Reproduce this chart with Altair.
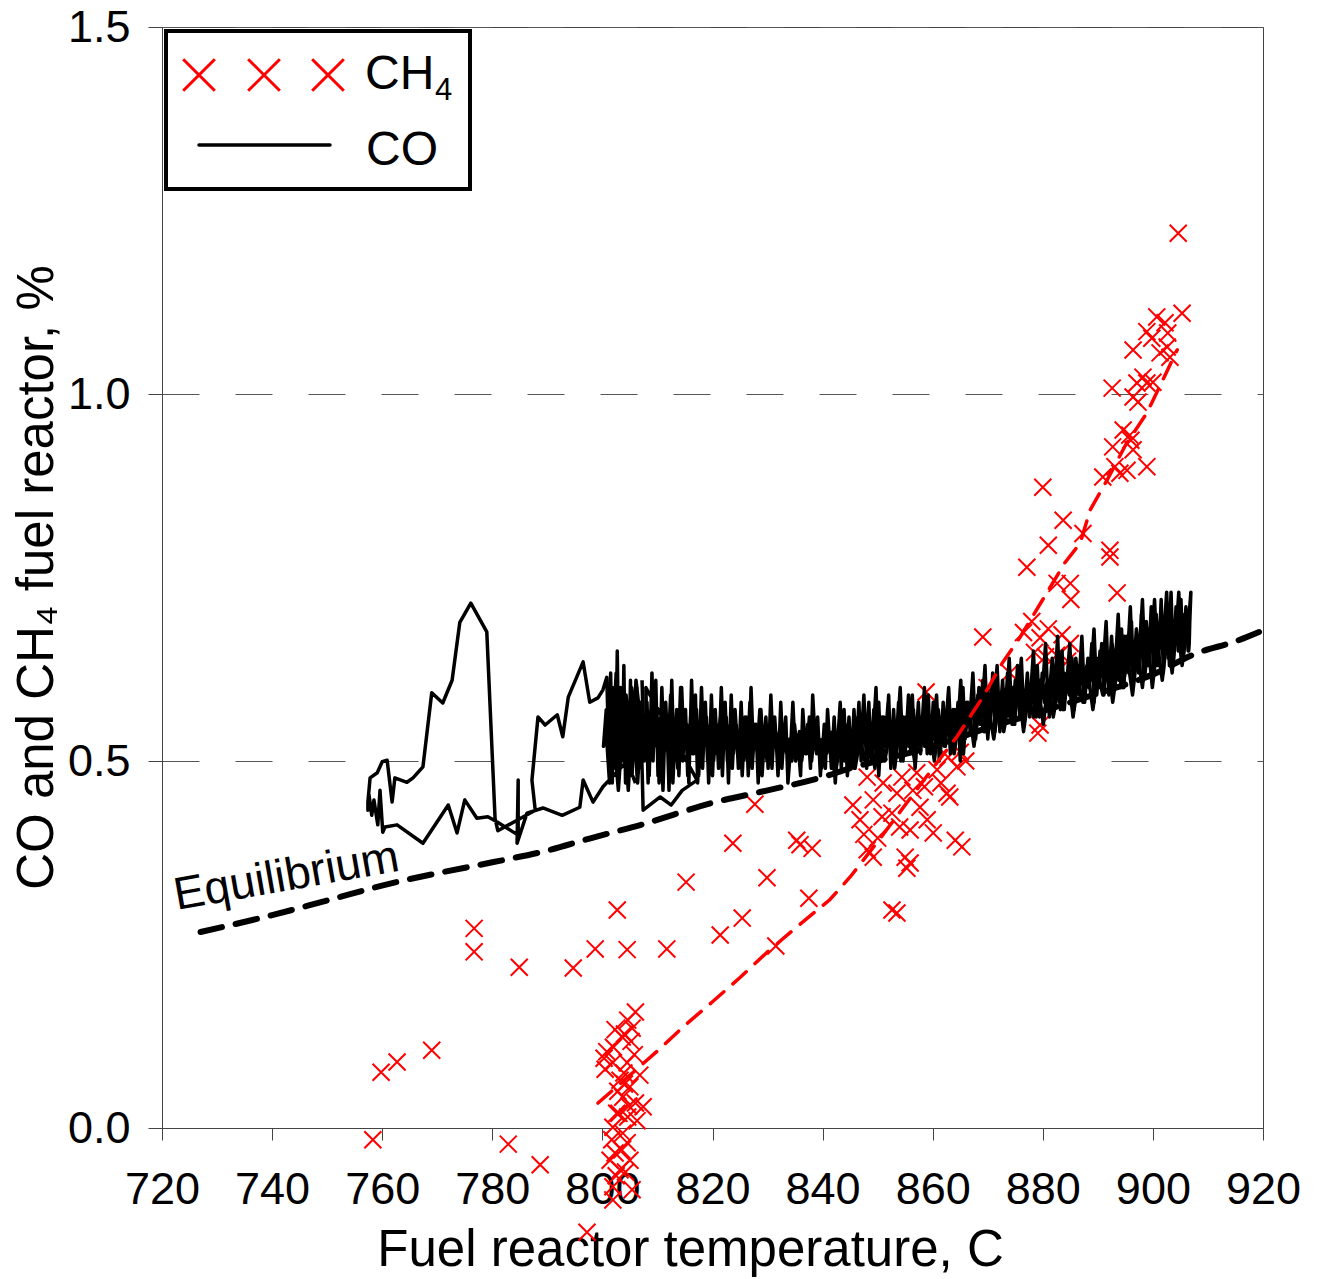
import altair as alt
import pandas as pd

FONT = "Liberation Sans"
RED = "#ff0000"

# ---- axis ticks ----
x_ticks = [720, 740, 760, 780, 800, 820, 840, 860, 880, 900, 920]
y_ticks = [0.0, 0.5, 1.0, 1.5]

# ---- CO trace in segments (temperature C, CO %) ----
# left loop (lower path out to ~757 C, upper path back) and dense start-up blob at ~800-807 C
loop_temp = [
    806.0, 804.5, 800.1, 798.3, 796.5, 795.9, 792.7, 789.2, 786.3, 784.5, 784.7, 784.7,
    780.9, 779.2, 777.2, 775.0, 773.6, 772.0, 767.4, 762.7, 760.5, 760.1, 759.6, 759.2,
    758.5, 758.1, 757.6, 757.4,
    757.4, 757.8, 759.1, 760.0, 760.9, 761.8, 762.3, 764.5, 765.6, 767.4, 769.0, 771.0,
    772.7, 774.1, 776.1, 779.0, 780.5, 781.0, 787.8, 787.2, 788.3, 789.6, 791.8, 792.8,
    793.8, 796.5, 797.7, 799.2, 800.1, 800.8,
    801.2, 801.5, 801.8, 802.1, 802.4, 802.7, 803.0, 803.3, 803.6, 803.9, 804.2, 804.5,
    804.8, 805.1, 805.4, 805.7, 806.0, 806.3, 806.6, 806.9, 806.2, 805.5, 804.7, 803.8,
    803.0, 802.2, 801.4, 800.7, 800.2, 800.6, 801.3, 802.0, 802.9, 803.7, 804.6, 805.5,
    806.4, 807.0, 806.1, 805.2, 804.3, 803.4, 802.5, 801.6, 800.9, 801.7, 802.6, 803.5,
    804.4, 805.3, 806.2, 807.0,
]
loop_pct = [
    0.470, 0.500, 0.465, 0.444, 0.474, 0.437, 0.426, 0.436, 0.429, 0.388, 0.474, 0.399,
    0.417, 0.424, 0.422, 0.447, 0.402, 0.440, 0.388, 0.413, 0.410, 0.403, 0.460, 0.413,
    0.447, 0.426, 0.454, 0.433,
    0.444, 0.477, 0.484, 0.499, 0.501, 0.444, 0.477, 0.471, 0.477, 0.492, 0.593, 0.579,
    0.610, 0.689, 0.715, 0.676, 0.422, 0.405, 0.433, 0.474, 0.560, 0.549, 0.563, 0.533,
    0.587, 0.635, 0.580, 0.586, 0.597, 0.614,
    0.50, 0.62, 0.47, 0.60, 0.49, 0.65, 0.48, 0.60, 0.50, 0.63, 0.47, 0.58,
    0.50, 0.61, 0.48, 0.59, 0.51, 0.60, 0.49, 0.58, 0.50, 0.57, 0.46, 0.56,
    0.52, 0.58, 0.51, 0.57, 0.52, 0.55, 0.47, 0.54, 0.46, 0.55, 0.52, 0.56,
    0.47, 0.55, 0.61, 0.49, 0.59, 0.53, 0.62, 0.48, 0.56, 0.60, 0.50, 0.57,
    0.49, 0.60, 0.52, 0.55,
]

# first forward sweep 807 -> 907 C (starts with the low branch near 0.44-0.47)
band1_temp = [
    807.4, 810.5, 812.5, 814.5, 817.2,
    807.9, 808.3, 808.8, 809.2, 809.7, 810.1, 810.6, 811.0, 811.5, 811.9, 812.4, 812.8,
    813.3, 813.7, 814.2, 814.6, 815.1, 815.5, 816.0, 816.4, 816.9, 817.3, 817.8, 818.2,
    818.7, 819.1, 819.6, 820.0, 820.5, 820.9, 821.4, 821.8, 822.3, 822.7, 823.2, 823.6,
    824.1, 824.5, 825.0, 825.4, 825.9, 826.3, 826.8, 827.2, 827.7, 828.1, 828.6, 829.0,
    829.5, 829.9, 830.4, 830.8, 831.3, 831.7, 832.2, 832.6, 833.1, 833.5, 834.0, 834.4,
    834.9, 835.3, 835.8, 836.2, 836.7, 837.1, 837.6, 838.0, 838.5, 838.9, 839.4, 839.8,
    840.3, 840.7, 841.2, 841.6, 842.1, 842.5, 843.0, 843.4, 843.9, 844.3, 844.8, 845.2,
    845.7, 846.1, 846.6, 847.0, 847.5, 847.9, 848.4, 848.8, 849.3, 849.7, 850.2, 850.6,
    851.1, 851.5, 852.0, 852.4, 852.9, 853.3, 853.8, 854.2, 854.7, 855.1, 855.6, 856.0,
    856.5, 856.9, 857.4, 857.8, 858.3, 858.7, 859.2, 859.6, 860.1, 860.5, 861.0, 861.4,
    861.9, 862.3, 862.8, 863.2, 863.7, 864.1, 864.6, 865.0, 865.5, 865.9, 866.4, 866.8,
    867.3, 867.7, 868.2, 868.6, 869.1, 869.5, 870.0, 870.4, 870.9, 871.3, 871.8, 872.2,
    872.7, 873.1, 873.6, 874.0, 874.5, 874.9, 875.4, 875.8, 876.3, 876.7, 877.2, 877.6,
    878.1, 878.5, 879.0, 879.4, 879.9, 880.3, 880.8, 881.2, 881.7, 882.1, 882.6, 883.0,
    883.5, 883.9, 884.4, 884.8, 885.3, 885.7, 886.2, 886.6, 887.1, 887.5, 888.0, 888.4,
    888.9, 889.3, 889.8, 890.2, 890.7, 891.1, 891.6, 892.0, 892.5, 892.9, 893.4, 893.8,
    894.3, 894.7, 895.2, 895.6, 896.1, 896.5, 897.0, 897.4, 897.9, 898.3, 898.8, 899.2,
    899.7, 900.1, 900.6, 901.0, 901.5, 901.9, 902.4, 902.8, 903.3, 903.7, 904.2, 904.6,
    905.1, 905.5, 906.0, 906.4, 906.8, 906.6,
]
band1_pct = [
    0.433, 0.451, 0.440, 0.460, 0.474,
    0.60, 0.47, 0.57, 0.50, 0.61, 0.48, 0.56, 0.46, 0.58, 0.51, 0.59, 0.47,
    0.55, 0.49, 0.60, 0.50, 0.57, 0.48, 0.56, 0.51, 0.59, 0.47, 0.54, 0.49,
    0.58, 0.50, 0.55, 0.48, 0.57, 0.51, 0.56, 0.48, 0.58, 0.50, 0.55, 0.49,
    0.57, 0.52, 0.54, 0.48, 0.56, 0.50, 0.58, 0.49, 0.55, 0.51, 0.57, 0.48,
    0.54, 0.50, 0.55, 0.49, 0.56, 0.51, 0.54, 0.49, 0.55, 0.51, 0.53, 0.50,
    0.55, 0.52, 0.54, 0.50, 0.53, 0.51, 0.56, 0.50, 0.54, 0.51, 0.53, 0.49,
    0.55, 0.51, 0.54, 0.49, 0.56, 0.50, 0.55, 0.49, 0.57, 0.50, 0.56, 0.49,
    0.57, 0.51, 0.58, 0.50, 0.56, 0.52, 0.58, 0.50, 0.57, 0.51, 0.58, 0.50,
    0.56, 0.52, 0.59, 0.50, 0.57, 0.51, 0.58, 0.50, 0.56, 0.52, 0.59, 0.51,
    0.57, 0.52, 0.58, 0.51, 0.57, 0.52, 0.59, 0.51, 0.58, 0.52, 0.57, 0.51,
    0.58, 0.52, 0.59, 0.51, 0.57, 0.53, 0.58, 0.50, 0.60, 0.53, 0.58, 0.54,
    0.61, 0.53, 0.59, 0.55, 0.61, 0.54, 0.60, 0.55, 0.62, 0.54, 0.59, 0.56,
    0.61, 0.55, 0.62, 0.56, 0.60, 0.55, 0.63, 0.56, 0.60, 0.57, 0.62, 0.56,
    0.61, 0.57, 0.63, 0.56, 0.62, 0.58, 0.61, 0.56, 0.64, 0.57, 0.62, 0.58,
    0.65, 0.57, 0.62, 0.59, 0.64, 0.57, 0.63, 0.59, 0.65, 0.58, 0.63, 0.60,
    0.66, 0.58, 0.64, 0.60, 0.66, 0.59, 0.65, 0.61, 0.67, 0.60, 0.66, 0.61,
    0.68, 0.60, 0.67, 0.62, 0.69, 0.61, 0.68, 0.62, 0.70, 0.61, 0.69, 0.63,
    0.71, 0.62, 0.70, 0.63, 0.72, 0.62, 0.70, 0.64, 0.73, 0.63, 0.71, 0.65,
    0.72, 0.64, 0.71, 0.65, 0.72, 0.66,
]

# second sweep 907 -> 845 C (listed here in rising temperature, traversed backwards)
band2_temp = [
    845.3, 845.8, 846.4, 846.9, 847.5, 848.0, 848.6, 849.1, 849.7, 850.2, 850.8, 851.3,
    851.9, 852.4, 853.0, 853.5, 854.1, 854.6, 855.2, 855.7, 856.3, 856.8, 857.4, 857.9,
    858.5, 859.0, 859.6, 860.1, 860.7, 861.2, 861.8, 862.3, 862.9, 863.4, 864.0, 864.5,
    865.1, 865.6, 866.2, 866.7, 867.3, 867.8, 868.4, 868.9, 869.5, 870.0, 870.6, 871.1,
    871.7, 872.2, 872.8, 873.3, 873.9, 874.4, 875.0, 875.5, 876.1, 876.6, 877.2, 877.7,
    878.3, 878.8, 879.4, 879.9, 880.5, 881.0, 881.6, 882.1, 882.7, 883.2, 883.8, 884.3,
    884.9, 885.4, 886.0, 886.5, 887.1, 887.6, 888.2, 888.7, 889.3, 889.8, 890.4, 890.9,
    891.5, 892.0, 892.6, 893.1, 893.7, 894.2, 894.8, 895.3, 895.9, 896.4, 897.0, 897.5,
    898.1, 898.6, 899.2, 899.7, 900.3, 900.8, 901.4, 901.9, 902.5, 903.0, 903.6, 904.1,
    904.7, 905.2, 905.8, 906.3, 906.9, 906.5,
]
band2_pct = [
    0.53, 0.49, 0.56, 0.51, 0.59, 0.49, 0.55, 0.52, 0.60, 0.48, 0.56, 0.52,
    0.58, 0.49, 0.55, 0.53, 0.60, 0.50, 0.56, 0.52, 0.59, 0.49, 0.55, 0.53,
    0.60, 0.51, 0.56, 0.53, 0.59, 0.50, 0.57, 0.54, 0.60, 0.52, 0.57, 0.54,
    0.61, 0.51, 0.58, 0.55, 0.62, 0.53, 0.60, 0.56, 0.63, 0.53, 0.59, 0.57,
    0.63, 0.54, 0.60, 0.57, 0.64, 0.55, 0.61, 0.58, 0.64, 0.55, 0.60, 0.58,
    0.65, 0.56, 0.61, 0.59, 0.66, 0.57, 0.63, 0.59, 0.67, 0.57, 0.62, 0.60,
    0.66, 0.58, 0.64, 0.60, 0.67, 0.58, 0.64, 0.61, 0.68, 0.59, 0.65, 0.62,
    0.69, 0.59, 0.66, 0.62, 0.70, 0.60, 0.67, 0.63, 0.71, 0.61, 0.68, 0.64,
    0.72, 0.62, 0.68, 0.65, 0.72, 0.63, 0.70, 0.66, 0.73, 0.63, 0.69, 0.66,
    0.73, 0.64, 0.70, 0.67, 0.73, 0.65,
]

# third sweep 845 -> 807 C (in the order traversed)
band3_temp = [
    845.0, 844.5, 844.1, 843.6, 843.2, 842.7, 842.3, 841.8, 841.4, 840.9, 840.5, 840.0,
    839.6, 839.1, 838.7, 838.2, 837.8, 837.3, 836.9, 836.4, 836.0, 835.5, 835.1, 834.6,
    834.2, 833.7, 833.3, 832.8, 832.4, 831.9, 831.5, 831.0, 830.6, 830.1, 829.7, 829.2,
    828.8, 828.3, 827.9, 827.4, 827.0, 826.5, 826.1, 825.6, 825.2, 824.7, 824.3, 823.8,
    823.4, 822.9, 822.5, 822.0, 821.6, 821.1, 820.7, 820.2, 819.8, 819.3, 818.9, 818.4,
    818.0, 817.5, 817.1, 816.6, 816.2, 815.7, 815.3, 814.8, 814.4, 813.9, 813.5, 813.0,
    812.6, 812.1, 811.7, 811.2, 810.8, 810.3, 809.9, 809.4, 809.0, 808.5, 808.1, 807.6,
    807.2,
]
band3_pct = [
    0.52, 0.48, 0.55, 0.50, 0.58, 0.52, 0.47, 0.54, 0.51, 0.57, 0.49, 0.53,
    0.48, 0.56, 0.52, 0.59, 0.49, 0.55, 0.51, 0.57, 0.48, 0.53, 0.50, 0.58,
    0.52, 0.47, 0.56, 0.51, 0.58, 0.48, 0.54, 0.52, 0.59, 0.49, 0.56, 0.51,
    0.57, 0.47, 0.55, 0.52, 0.60, 0.48, 0.56, 0.50, 0.58, 0.49, 0.55, 0.51,
    0.59, 0.47, 0.56, 0.52, 0.60, 0.49, 0.55, 0.50, 0.59, 0.47, 0.56, 0.52,
    0.60, 0.48, 0.57, 0.51, 0.61, 0.47, 0.55, 0.52, 0.60, 0.48, 0.57, 0.50,
    0.61, 0.46, 0.56, 0.51, 0.60, 0.47, 0.57, 0.52, 0.62, 0.48, 0.58, 0.50,
    0.61,
]

# a separate later run 841 -> 906 C
band4_temp = [
    841.4, 842.3, 843.2, 844.1, 845.0, 845.9, 846.8, 847.7, 848.6, 849.5, 850.4, 851.3,
    852.2, 853.1, 854.0, 854.9, 855.8, 856.7, 857.6, 858.5, 859.4, 860.3, 861.2, 862.1,
    863.0, 863.9, 864.8, 865.7, 866.6, 867.5, 868.4, 869.3, 870.2, 871.1, 872.0, 872.9,
    873.8, 874.7, 875.6, 876.5, 877.4, 878.3, 879.2, 880.1, 881.0, 881.9, 882.8, 883.7,
    884.6, 885.5, 886.4, 887.3, 888.2, 889.1, 890.0, 890.9, 891.8, 892.7, 893.6, 894.5,
    895.4, 896.3, 897.2, 898.1, 899.0, 899.9, 900.8, 901.7, 902.6, 903.5, 904.4, 905.3,
    906.2,
]
band4_pct = [
    0.52, 0.48, 0.53, 0.50, 0.54, 0.49, 0.53, 0.50, 0.54, 0.49, 0.55, 0.50,
    0.54, 0.49, 0.55, 0.51, 0.55, 0.50, 0.56, 0.52, 0.55, 0.50, 0.56, 0.52,
    0.56, 0.51, 0.56, 0.53, 0.57, 0.52, 0.57, 0.54, 0.57, 0.53, 0.58, 0.54,
    0.58, 0.55, 0.60, 0.54, 0.59, 0.56, 0.60, 0.55, 0.61, 0.56, 0.60, 0.57,
    0.62, 0.56, 0.61, 0.58, 0.62, 0.57, 0.62, 0.59, 0.64, 0.58, 0.63, 0.60,
    0.64, 0.59, 0.65, 0.60, 0.67, 0.60, 0.66, 0.61, 0.67, 0.62, 0.69, 0.63,
    0.68,
]

# ---- CH4 measurements ----
ch4_temp = [
    758.3, 759.8, 762.7, 769.0, 776.7, 776.7, 782.9, 784.9, 788.7, 794.7, 797.2, 798.7,
    802.7, 804.5, 811.7, 815.2, 821.4, 823.7, 825.4, 827.7, 829.9, 831.5, 835.3, 835.9,
    837.5, 838.1,
    806.0, 804.6, 802.3, 805.4, 803.6, 800.8, 801.9, 804.5, 806.8, 803.2, 805.0, 803.7,
    806.0, 802.6, 804.6, 801.9, 803.7, 801.7, 804.5, 802.3, 805.0, 801.4, 803.2, 801.9,
    805.4, 801.9, 807.4, 800.5, 802.0, 803.0, 804.0, 805.8, 803.5, 804.8, 802.8, 806.3,
    800.3, 805.2, 803.9, 804.2, 802.5, 804.0,
    848.1, 854.4, 857.1, 860.8, 864.4, 849.2, 853.5, 856.4, 862.6, 846.8, 850.8, 852.6,
    857.7, 863.1, 855.9, 860.1, 864.1, 865.3, 848.1, 849.2, 855.0, 855.9, 855.3, 852.6,
    853.5, 851.0, 858.5, 861.5, 859.0, 847.5, 850.0, 845.5, 866.0, 862.8, 865.0, 858.8,
    854.0,
    869.1, 874.0, 869.9, 876.5, 878.0, 879.5, 881.0, 883.5, 885.0, 878.5, 880.5, 882.5,
    884.5, 879.1, 879.5, 880.0, 883.7, 887.3, 881.0, 877.1, 892.2, 892.2, 882.6, 885.0,
    893.5, 885.1, 890.9, 893.1, 894.0, 895.3, 898.9, 892.7, 896.0, 896.4, 894.6, 895.8,
    896.4, 897.3, 892.6, 897.1, 898.2, 898.9, 900.0, 896.4, 902.6, 901.3, 903.1, 898.9,
    902.7, 899.8, 900.7, 902.2, 905.3, 904.6,
]
ch4_pct = [
    -0.016, 0.076, 0.090, 0.106, 0.272, 0.240, -0.022, 0.219, -0.050, 0.218, -0.142, 0.244,
    0.297, 0.243, 0.244, 0.335, 0.263, 0.388, 0.286, 0.441, 0.341, 0.248, 0.392, 0.386,
    0.313, 0.381,
    0.158, 0.147, 0.134, 0.136, 0.124, 0.104, 0.089, 0.089, 0.072, 0.065, 0.056, 0.042,
    0.034, 0.020, 0.015, 0.001, -0.007, -0.016, -0.020, -0.034, -0.044, -0.044, -0.057, -0.080,
    -0.084, -0.098, 0.029, 0.080, 0.110, 0.020, 0.060, 0.100, -0.030, 0.030, 0.050, 0.010,
    0.095, 0.118, 0.075, -0.060, -0.065, 0.128,
    0.478, 0.478, 0.484, 0.488, 0.492, 0.447, 0.456, 0.460, 0.456, 0.420, 0.424, 0.429,
    0.437, 0.451, 0.406, 0.402, 0.392, 0.383, 0.379, 0.369, 0.369, 0.361, 0.354, 0.297,
    0.293, 0.470, 0.465, 0.470, 0.420, 0.400, 0.395, 0.440, 0.500, 0.505, 0.512, 0.594,
    0.410,
    0.669, 0.620, 0.600, 0.675, 0.690, 0.668, 0.680, 0.672, 0.660, 0.648, 0.642, 0.644,
    0.636, 0.538, 0.549, 0.873, 0.828, 0.810, 0.794, 0.764, 0.787, 0.778, 0.742, 0.742,
    0.729, 0.720, 0.887, 0.901, 0.892, 0.896, 0.901, 0.928, 0.937, 0.924, 0.951, 0.944,
    0.996, 0.989, 1.008, 1.015, 1.023, 1.015, 1.016, 1.060, 1.064, 1.056, 1.050, 1.085,
    1.083, 1.076, 1.105, 1.097, 1.110, 1.219,
]

# ---- CH4 trend (red dashed) ----
fit_temp = [799.2, 805.0, 810.0, 815.0, 820.0, 825.0, 830.0, 835.0, 841.3, 845.0,
            850.0, 855.0, 860.0, 864.4, 869.1, 872.6, 875.9, 880.0, 884.0, 886.8, 888.6,
            891.7, 895.0, 898.9, 901.8, 904.4]
fit_pct = [0.034, 0.072, 0.105, 0.140, 0.172, 0.205, 0.240, 0.272, 0.311, 0.342,
           0.390, 0.440, 0.490, 0.533, 0.587, 0.633, 0.669, 0.720, 0.770, 0.797, 0.842,
           0.883, 0.930, 0.974, 1.019, 1.060]

# ---- Equilibrium CO (black dashed) ----
eq_temp = [727, 740, 750, 762, 770, 780, 790, 798, 807, 820, 830, 840, 845, 850, 860,
           870, 880, 890, 900, 908, 915, 920]
eq_pct = [0.267, 0.290, 0.310, 0.334, 0.347, 0.362, 0.378, 0.395, 0.413, 0.443, 0.460,
          0.478, 0.490, 0.500, 0.520, 0.545, 0.568, 0.592, 0.618, 0.647, 0.663, 0.678]

# assemble the CO path: one continuous run plus one separate later run
run1_temp = loop_temp + band1_temp + band2_temp[::-1] + band3_temp
run1_pct = loop_pct + band1_pct + band2_pct[::-1] + band3_pct
co_df = pd.concat([
    pd.DataFrame({"t": run1_temp, "v": run1_pct, "i": list(range(len(run1_temp))), "run": "a"}),
    pd.DataFrame({"t": band4_temp, "v": band4_pct, "i": list(range(len(band4_temp))), "run": "b"}),
], ignore_index=True)
ch4_df = pd.DataFrame({"t": ch4_temp, "v": ch4_pct})
fit_df = pd.DataFrame({"t": fit_temp, "v": fit_pct})
eq_df = pd.DataFrame({"t": eq_temp, "v": eq_pct})

xs = alt.Scale(domain=[720, 920], nice=False, zero=False)
ys = alt.Scale(domain=[0, 1.5], nice=False, zero=False)

X_PATH = "M-1,-1L1,1M-1,1L1,-1"

x_axis = alt.Axis(
    values=x_ticks, format="d", title="Fuel reactor temperature, C", grid=False,
    labelFontSize=45, titleFontSize=51, labelFont=FONT, titleFont=FONT,
    labelColor="black", titleColor="black", titleFontWeight="normal",
    tickSize=12, labelPadding=63, labelBaseline="alphabetic",
    domainColor="#444", tickColor="#444", labelFlush=False, labelOverlap=False,
    titleX=528, titleY=137, titleBaseline="alphabetic", titleAlign="center",
)
y_axis = alt.Axis(
    values=y_ticks, format=".1f", title="CO and CH₄ fuel reactor, %", grid=True,
    gridDash=[37, 36], gridColor="#555", gridWidth=1,
    labelFontSize=45, titleFontSize=51, labelFont=FONT, titleFont=FONT,
    labelColor="black", titleColor="black", titleFontWeight="normal",
    tickSize=14, labelPadding=18, domainColor="#444", tickColor="#444",
    labelFlush=False, labelOverlap=False,
    titleAngle=270, titleX=-110, titleY=550, titleBaseline="alphabetic", titleAlign="center",
)

ch4_pts = alt.Chart(ch4_df).mark_point(
    shape=X_PATH, size=290, filled=False, color=RED, strokeWidth=2, opacity=1
).encode(x=alt.X("t:Q", scale=xs, axis=x_axis), y=alt.Y("v:Q", scale=ys, axis=y_axis))

co_line = alt.Chart(co_df).mark_line(
    color="black", strokeWidth=3.5, strokeJoin="round"
).encode(x=alt.X("t:Q", scale=xs), y=alt.Y("v:Q", scale=ys), order="i:Q", detail="run:N")

eq_line = alt.Chart(eq_df).mark_line(
    color="black", strokeWidth=6, strokeDash=[22, 14], strokeCap="round", interpolate="monotone"
).encode(x=alt.X("t:Q", scale=xs), y=alt.Y("v:Q", scale=ys))

fit_line = alt.Chart(fit_df).mark_line(
    color=RED, strokeWidth=3.5, strokeDash=[18, 12], strokeCap="round"
).encode(x=alt.X("t:Q", scale=xs), y=alt.Y("v:Q", scale=ys))

eq_label = alt.Chart(pd.DataFrame({"t": [722.7], "v": [0.297], "s": ["Equilibrium"]})).mark_text(
    font=FONT, fontSize=46, angle=350, align="left", baseline="alphabetic", color="black"
).encode(x=alt.X("t:Q", scale=xs), y=alt.Y("v:Q", scale=ys), text="s:N")

# ---- legend (drawn by hand to reproduce the boxed legend) ----
one = pd.DataFrame({"a": [0]})
leg_box = alt.Chart(one).mark_rect(fill="white", stroke="black", strokeWidth=4).encode(
    x=alt.value(4), x2=alt.value(308), y=alt.value(4), y2=alt.value(162))
leg_marks = alt.Chart(pd.DataFrame({"px": [37, 102, 166], "py": [48, 48, 48]})).mark_point(
    shape=X_PATH, size=1000, filled=False, color=RED, strokeWidth=3, opacity=1
).encode(x=alt.X("px:Q", scale=None), y=alt.Y("py:Q", scale=None))
leg_line = alt.Chart(one).mark_rule(color="black", strokeWidth=3.5, strokeCap="round").encode(
    x=alt.value(37), x2=alt.value(168), y=alt.value(118))
leg_ch = alt.Chart(one).mark_text(font=FONT, fontSize=48, align="left", baseline="alphabetic",
                                  color="black", text="CH").encode(x=alt.value(203), y=alt.value(62))
leg_4 = alt.Chart(one).mark_text(font=FONT, fontSize=31, align="left", baseline="alphabetic",
                                 color="black", text="4").encode(x=alt.value(273), y=alt.value(73))
leg_co = alt.Chart(one).mark_text(font=FONT, fontSize=48, align="left", baseline="alphabetic",
                                  color="black", text="CO").encode(x=alt.value(204), y=alt.value(138))

chart = alt.layer(
    ch4_pts, co_line, eq_line, fit_line, eq_label,
    leg_box, leg_marks, leg_line, leg_ch, leg_4, leg_co,
).properties(
    width=1101, height=1101,
    autosize=alt.AutoSizeParams(type="none"),
    padding={"left": 154, "top": 19, "right": 40, "bottom": 150},
).configure(font=FONT).configure_view(stroke="#444", strokeWidth=1)

chart.save("out.html", embed_options={"renderer": "svg", "actions": False})
